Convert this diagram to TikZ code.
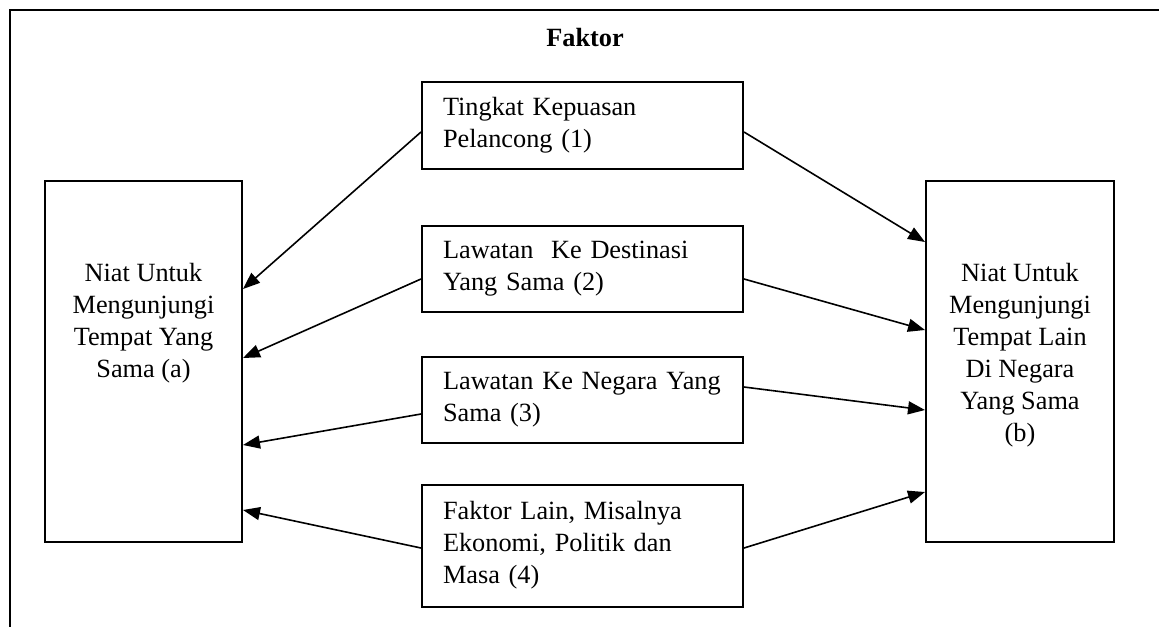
\documentclass[tikz,border=0pt]{standalone}
\usepackage{fontspec}
\setmainfont{Liberation Serif}
\usetikzlibrary{arrows.meta,positioning}
\tikzstyle{niat} = [rectangle, draw, line width=1pt,
    minimum width=98.5pt, minimum height=180.5pt, inner sep=0pt]
\tikzstyle{niattext} = [align=center, inner sep=0pt,
    font=\fontsize{13.15}{16}\selectfont]
\tikzstyle{faktor} = [rectangle, draw, line width=1pt, text width=139.5pt,
    align=left, inner xsep=10.5pt, inner ysep=0pt, minimum height=43pt,
    font=\fontsize{13.15}{16}\selectfont]
\tikzstyle{line} = [draw, line width=0.8pt, -{Triangle[length=8.5pt,width=6.5pt]}]

\begin{document}
\begin{tikzpicture}[x=0.5pt, y=-0.5pt]
    \clip (0,0) rectangle (1159,626);
    % Frame
    \draw [line width=1.1pt] (10,10) rectangle (1200,660);
    % Place nodes
    \node [font=\bfseries\fontsize{13.15}{16}\selectfont] (judul) at (585,38) {Faktor};
    \node [niat] (niatA) at (143.5,361.5) {};
    \node [niat, minimum width=94pt] (niatB) at (1020,361.5) {};
    \node [niattext, below=41.5pt of niatA.north] (teksA) {Niat Untuk\\Mengunjungi\\Tempat Yang\\Sama (a)};
    \node [niattext, below=41.5pt of niatB.north] (teksB) {Niat Untuk\\Mengunjungi\\Tempat Lain\\Di Negara\\Yang Sama\\(b)};
    \node [faktor] (kepuasan) at (582.5,125.5) {Tingkat Kepuasan\\Pelancong (1)};
    \node [faktor, below=27.5pt of kepuasan] (destinasi) {Lawatan\ \ Ke Destinasi\\Yang Sama (2)};
    \node [faktor, below=21.5pt of destinasi] (negara) {Lawatan Ke Negara Yang\\Sama (3)};
    \node [faktor, below=20pt of negara, minimum height=61pt] (lain) {Faktor Lain, Misalnya\\Ekonomi, Politik dan\\Masa (4)};
    % Arrows to (a)
    \path [line] ([yshift=-3.25pt]kepuasan.west) -- ([yshift=36.25pt]niatA.east);
    \path [line] ([yshift=-5.25pt]destinasi.west) -- ([yshift=1.75pt]niatA.east);
    \path [line] ([yshift=-7.25pt]negara.west) -- ([yshift=-41.75pt]niatA.east);
    \path [line] ([yshift=-1.25pt]lain.west) -- ([yshift=-74.25pt]niatA.east);
    % Arrows to (b)
    \path [line] ([yshift=-3.25pt]kepuasan.east) -- ([yshift=59.75pt]niatB.west);
    \path [line] ([yshift=-5.25pt]destinasi.east) -- ([yshift=15.75pt]niatB.west);
    \path [line] ([yshift=6.25pt]negara.east) -- ([yshift=-24.25pt]niatB.west);
    \path [line] ([yshift=-1.25pt]lain.east) -- ([yshift=-65.25pt]niatB.west);
\end{tikzpicture}
\end{document}
